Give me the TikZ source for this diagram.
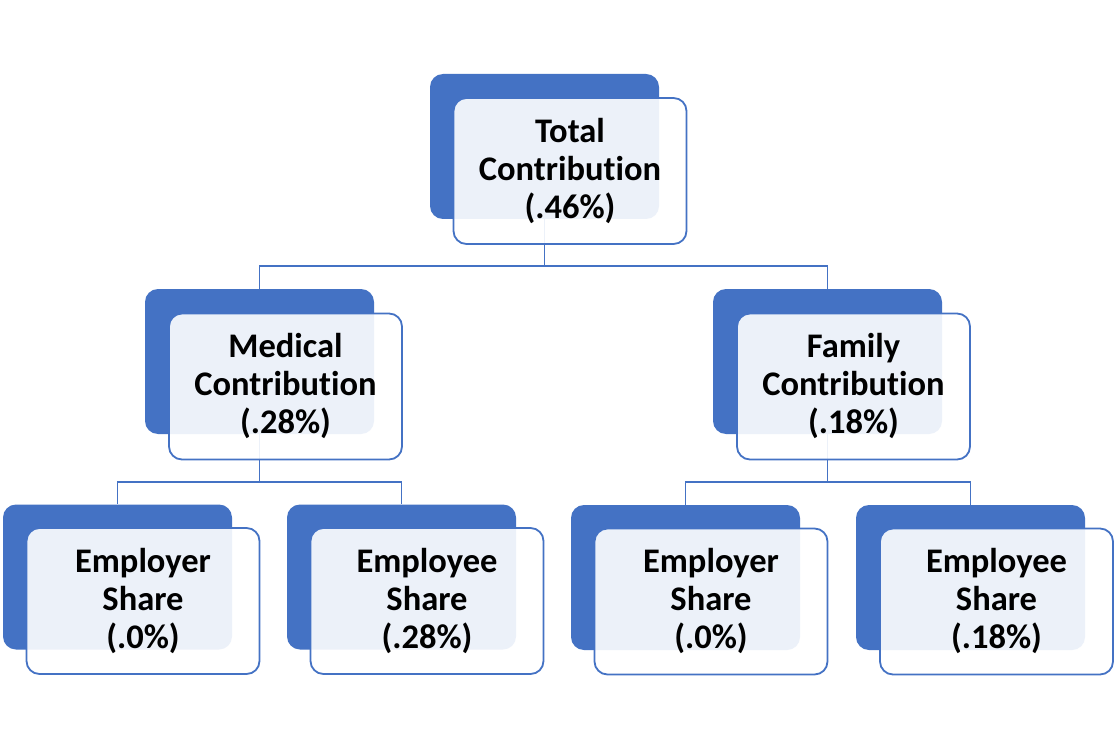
\documentclass[tikz,border=0pt]{standalone}
\usepackage{fontspec}
\setmainfont{Carlito}[RawFeature={-liga;-clig;-dlig}]
\definecolor{blu}{HTML}{4472C4}
\begin{document}
\begin{tikzpicture}[x=1pt,y=-1pt,
  backbox/.style={draw=none, fill=blu, rounded corners=13pt, minimum width=229pt, minimum height=145pt, inner sep=0pt},
  frontbox/.style={draw=blu, line width=1.8pt, fill=white, fill opacity=0.9, text opacity=1, rounded corners=13pt, minimum width=233pt, minimum height=146pt, inner sep=0pt, align=center, font=\bfseries\fontsize{34.5}{38}\selectfont},
  conn/.style={draw=blu, line width=1.7pt}]
\useasboundingbox[fill=white] (0,0) rectangle (1118,751);
% back boxes
\node[backbox] (tB)  at (544.5,146.5) {};
\node[backbox] (mB)  at (259.5,361.5) {};
\node[backbox] (fB)  at (827.5,361.5) {};
\node[backbox] (b1B) at (117.5,577) {};
\node[backbox] (b2B) at (401.5,577) {};
\node[backbox] (b3B) at (685.5,577.5) {};
\node[backbox] (b4B) at (970.5,577.5) {};
% connectors
\coordinate (bus1) at (0,266);
\coordinate (bus2) at (0,482);
\draw[conn] (tB.south) -- (tB.south |- bus1) -| (mB.north);
\draw[conn] (tB.south |- bus1) -| (fB.north);
\draw[conn] (mB.south) -- (mB.south |- bus2) -| (b1B.north);
\draw[conn] (mB.south |- bus2) -| (b2B.north);
\draw[conn] (fB.south) -- (fB.south |- bus2) -| (b3B.north);
\draw[conn] (fB.south |- bus2) -| (b4B.north);
% front boxes
\node[frontbox] (tF)  at (570,171) {Total\\Contribution\\(.46\%)};
\node[frontbox] (mF)  at (285.5,386.5) {Medical\\Contribution\\(.28\%)};
\node[frontbox] (fF)  at (853.5,386.5) {Family\\Contribution\\(.18\%)};
\node[frontbox] (b1F) at (143,601) {Employer\\Share\\(.0\%)};
\node[frontbox] (b2F) at (427,601) {Employee\\Share\\(.28\%)};
\node[frontbox] (b3F) at (711,601.5) {Employer\\Share\\(.0\%)};
\node[frontbox] (b4F) at (996.5,601.5) {Employee\\Share\\(.18\%)};
\end{tikzpicture}
\end{document}
